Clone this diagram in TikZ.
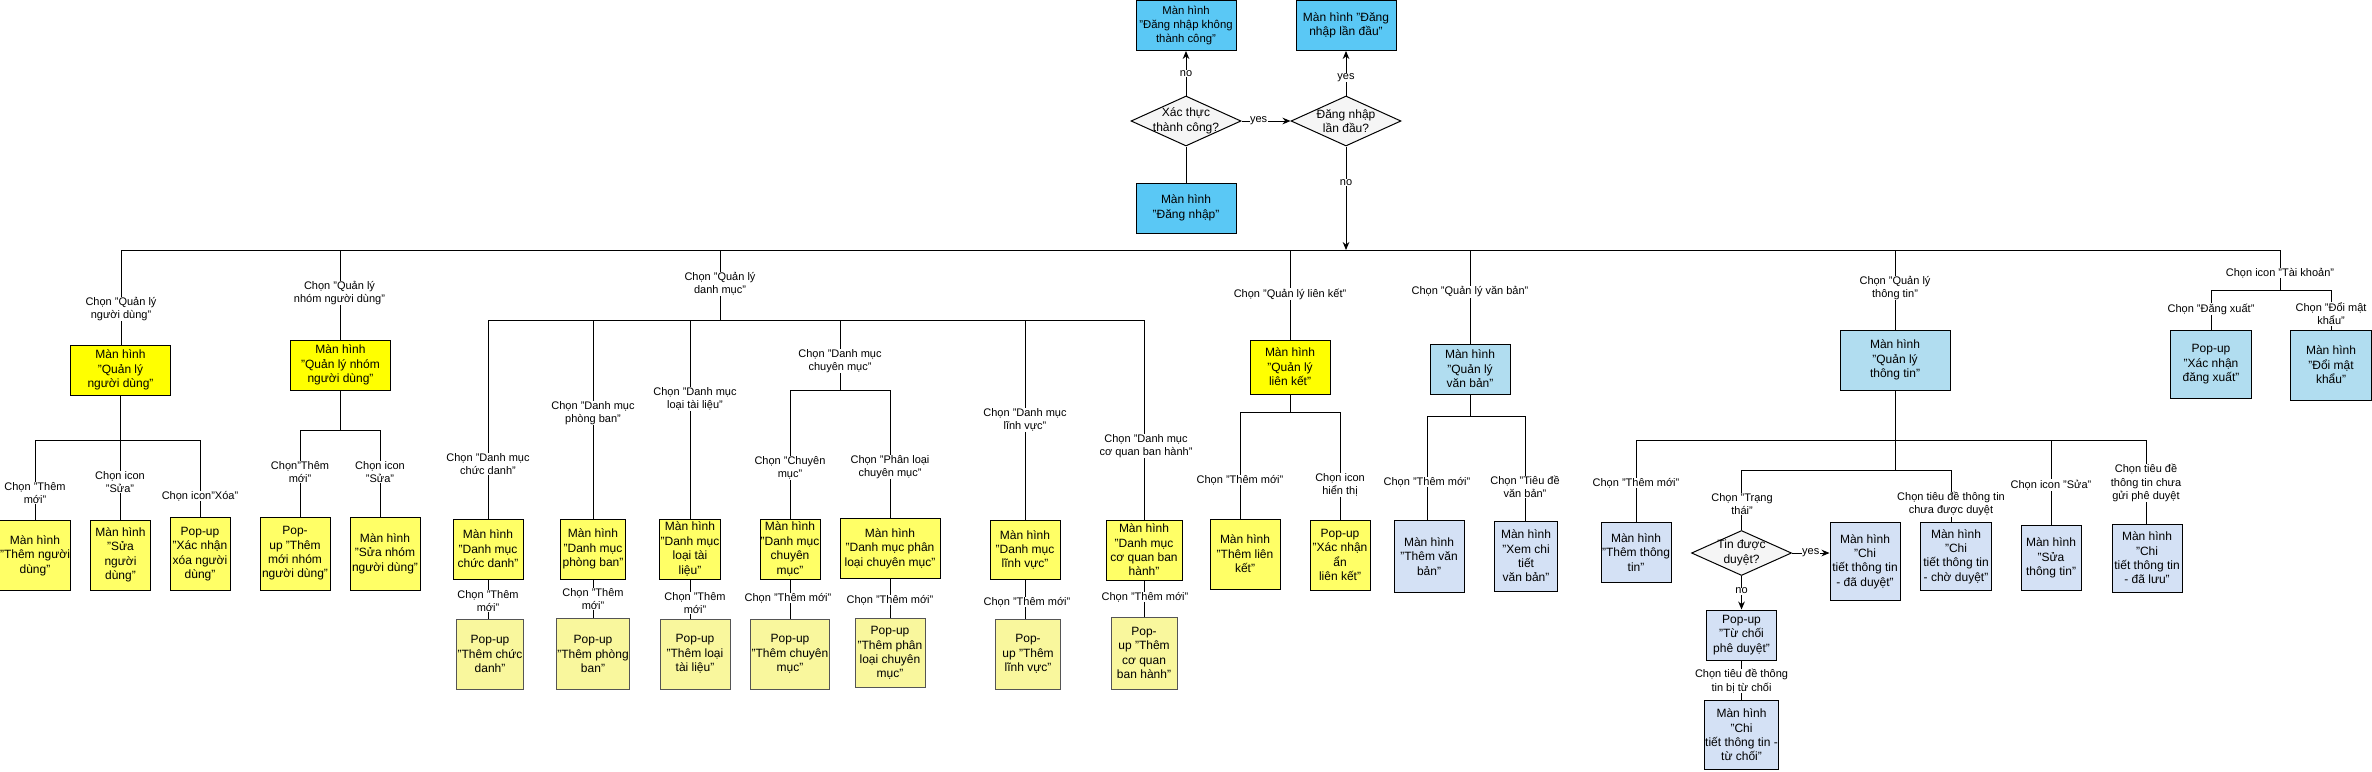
\documentclass[tikz,border=0pt]{standalone}
\usepackage{fontspec}
\setmainfont{Liberation Sans}
\usetikzlibrary{shapes.geometric,arrows.meta}
\definecolor{cTop}{HTML}{5AC8F5}
\definecolor{cDia}{HTML}{F5F5F5}
\definecolor{cY1}{HTML}{FFFF00}
\definecolor{cY2}{HTML}{FFFF66}
\definecolor{cY3}{HTML}{F9F79D}
\definecolor{cB1}{HTML}{B1DDF0}
\definecolor{cB2}{HTML}{D4E1F5}
\definecolor{cGray}{HTML}{555555}
\begin{document}
\begin{tikzpicture}[x=0.75pt,y=-0.75pt,
  sz/.style 2 args={minimum width=#1*0.75pt,minimum height=#2*0.75pt},
  base/.style={draw=black,line width=0.75pt,align=center,inner sep=0.5pt,font=\fontsize{9}{10.8}\selectfont},
  topbox/.style={base,fill=cTop},
  yA/.style={base,fill=cY1},
  yB/.style={base,fill=cY2},
  yC/.style={base,fill=cY3,draw=cGray},
  bA/.style={base,fill=cB1},
  bB/.style={base,fill=cB2},
  dia/.style={diamond,draw=black,fill=cDia,line width=0.75pt,inner sep=0pt},
  diatext/.style={align=center,font=\fontsize{9}{10.8}\selectfont},
  lbl/.style={fill=white,inner sep=0.4pt,align=center,font=\fontsize{8.25}{9.9}\selectfont},
  conn/.style={line width=0.75pt,draw=black},
  arr/.style={conn,-{Stealth[length=6pt,width=5pt]}}]
\useasboundingbox (0,0) rectangle (2372,771);

% ---------- top flow ----------
\node[topbox,sz={100}{50},font=\fontsize{8.5}{10.2}\selectfont] (fail) at (1186,25.5) {Màn hình\\"Đăng nhập không\\thành công"};
\node[topbox,sz={100}{50}] (first) at (1346,25.5) {Màn hình "Đăng\\nhập lần đầu"};
\node[dia,sz={110}{50},label={[diatext]center:{Xác thực\\thành công?}}] (d1) at (1186,121) {};
\node[dia,sz={110}{50},label={[diatext]center:{Đăng nhập\\lần đầu?}}] (d2) at (1346,121) {};
\node[topbox,sz={100}{50}] (login) at (1186,208) {Màn hình\\"Đăng nhập"};

\coordinate (jNo) at (1346,250);
\coordinate (busL) at (121,250);
\coordinate (busR) at (2280,250);
\draw[conn] (busL) -- (busR);
\draw[conn] (login) -- (d1);
\draw[arr] (d1) -- node[lbl]{no} (fail);
\draw[arr] (d1) -- node[lbl,pos=0.35]{yes} (d2);
\draw[arr] (d2) -- node[lbl,pos=0.4]{yes} (first);
\draw[arr] (d2) -- node[lbl,pos=0.35]{no} (jNo);

% ---------- Branch A ----------
\node[yA,sz={100}{50}] (qlnd) at (120.5,370) {Màn hình\\"Quản lý\\người dùng"};
\node[yB,sz={70}{70}] (A1) at (35,555.5) {Màn hình\\"Thêm người\\dùng"};
\node[yB,sz={60}{70}] (A2) at (120.5,555) {Màn hình\\"Sửa\\người\\dùng"};
\node[yB,sz={60}{73}] (A3) at (200,554) {Pop-up\\"Xác nhận\\xóa người\\dùng"};
\coordinate (jA) at (121,250);
\coordinate (jA1) at (35,440);
\coordinate (jA2) at (120.5,440);
\coordinate (jA3) at (200,440);
\draw[conn] (jA) -- (jA |- qlnd.north);
\draw[conn] (qlnd.south) -- (jA2);
\draw[conn] (jA1) -- (jA3);
\draw[conn] (jA1) -- (jA1 |- A1.north);
\draw[conn] (jA2) -- (jA2 |- A2.north);
\draw[conn] (jA3) -- (jA3 |- A3.north);
\node[lbl] (lA) at (121,309) {Chọn "Quản lý\\người dùng"};
\node[lbl] (lA1) at (35,493) {Chọn "Thêm\\mới"};
\node[lbl] (lA2) at (120,482) {Chọn icon\\"Sửa"};
\node[lbl] (lA3) at (200,496) {Chọn icon"Xóa"};

% ---------- Branch B ----------
\node[yA,sz={100}{50}] (qlnn) at (340.5,365) {Màn hình\\"Quản lý nhóm\\người dùng"};
\node[yB,sz={70}{73}] (B1) at (295,553.5) {Pop-\\up "Thêm\\mới nhóm\\người dùng"};
\node[yB,sz={70}{73}] (B2) at (385,553.5) {Màn hình\\"Sửa nhóm\\người dùng"};
\coordinate (jB) at (340,250);
\coordinate (jBm) at (340.5,430);
\coordinate (jB1) at (300,430);
\coordinate (jB2) at (380,430);
\draw[conn] (jB) -- (jB |- qlnn.north);
\draw[conn] (qlnn.south) -- (jBm);
\draw[conn] (jB1) -- (jB2);
\draw[conn] (jB1) -- (jB1 |- B1.north);
\draw[conn] (jB2) -- (jB2 |- B2.north);
\node[lbl] (lB) at (339.5,293) {Chọn "Quản lý\\nhóm người dùng"};
\node[lbl] (lB1) at (300,472) {Chọn"Thêm\\mới"};
\node[lbl] (lB2) at (380,472) {Chọn icon\\"Sửa"};

% ---------- Branch C ----------
\coordinate (jC) at (720,250);
\coordinate (jCm) at (720,320);
\coordinate (jC1) at (488,320);
\coordinate (jC2) at (593,320);
\coordinate (jC3) at (690,320);
\coordinate (jC4) at (840,320);
\coordinate (jC5) at (1025,320);
\coordinate (jC6) at (1144,320);
\coordinate (jC4m) at (840,390);
\coordinate (jC4a) at (790,390);
\coordinate (jC4b) at (890,390);
\draw[conn] (jC) -- (jCm);
\draw[conn] (jC1) -- (jC6);
\draw[conn] (jC4) -- (jC4m);
\draw[conn] (jC4a) -- (jC4b);

\node[yB,sz={70}{60}] (C1) at (488,549) {Màn hình\\"Danh mục\\chức danh"};
\node[yC,sz={66}{70}] (C1p) at (490,654) {Pop-up\\"Thêm chức\\danh"};
\node[yB,sz={65}{60}] (C2) at (593,549) {Màn hình\\"Danh mục\\phòng ban"};
\node[yC,sz={70}{71}] (C2p) at (593,654) {Pop-up\\"Thêm phòng\\ban"};
\node[yB,sz={60}{60}] (C3) at (690,549) {Màn hình\\"Danh mục\\loại tài\\liệu"};
\node[yC,sz={70}{70}] (C3p) at (695,654) {Pop-up\\"Thêm loại\\tài liệu"};
\node[yB,sz={60}{60}] (C4a) at (790,549) {Màn hình\\"Danh mục\\chuyên\\mục"};
\node[yC,sz={76}{70}] (C4ap) at (790,654) {Pop-up\\"Thêm chuyên\\mục"};
\node[yB,sz={100}{60}] (C4b) at (890,548.5) {Màn hình\\"Danh mục phân\\loại chuyên mục"};
\node[yC,sz={70}{69}] (C4bp) at (890,653) {Pop-up\\"Thêm phân\\loại chuyên\\mục"};
\node[yB,sz={70}{59}] (C5) at (1025,550) {Màn hình\\"Danh mục\\lĩnh vực"};
\node[yC,sz={65}{70}] (C5p) at (1028,654) {Pop-\\up "Thêm\\lĩnh vực"};
\node[yB,sz={76}{60}] (C6) at (1144,550) {Màn hình\\"Danh mục\\cơ quan ban\\hành"};
\node[yC,sz={66}{72}] (C6p) at (1144,653) {Pop-\\up "Thêm\\cơ quan\\ban hành"};

\draw[conn] (jC1) -- (jC1 |- C1.north);
\draw[conn] (jC2) -- (jC2 |- C2.north);
\draw[conn] (jC3) -- (jC3 |- C3.north);
\draw[conn] (jC4a) -- (jC4a |- C4a.north);
\draw[conn] (jC4b) -- (jC4b |- C4b.north);
\draw[conn] (jC5) -- (jC5 |- C5.north);
\draw[conn] (jC6) -- (jC6 |- C6.north);
\draw[conn] (C1.south) -- (C1.south |- C1p.north);
\draw[conn] (C2.south) -- (C2.south |- C2p.north);
\draw[conn] (C3.south) -- (C3.south |- C3p.north);
\draw[conn] (C4a.south) -- (C4a.south |- C4ap.north);
\draw[conn] (C4b.south) -- (C4b.south |- C4bp.north);
\draw[conn] (C5.south) -- (C5.south |- C5p.north);
\draw[conn] (C6.south) -- (C6.south |- C6p.north);

\node[lbl] (lC) at (720,284) {Chọn "Quản lý\\danh mục"};
\node[lbl] (lC1) at (488,464) {Chọn "Danh mục\\chức danh"};
\node[lbl] (lC1p) at (488,601) {Chọn "Thêm\\mới"};
\node[lbl] (lC2) at (593,413) {Chọn "Danh mục\\phòng ban"};
\node[lbl] (lC2p) at (593,599) {Chọn "Thêm\\mới"};
\node[lbl] (lC3) at (695,399) {Chọn "Danh mục\\loại tài liệu"};
\node[lbl] (lC3p) at (695,603) {Chọn "Thêm\\mới"};
\node[lbl] (lC4) at (840,361) {Chọn "Danh mục\\chuyên mục"};
\node[lbl] (lC4a) at (790,468) {Chọn "Chuyên\\mục"};
\node[lbl] (lC4ap) at (788,598) {Chọn "Thêm mới"};
\node[lbl] (lC4b) at (890,467) {Chọn "Phân loại\\chuyên mục"};
\node[lbl] (lC4bp) at (890,600) {Chọn "Thêm mới"};
\node[lbl] (lC5) at (1025,420) {Chọn "Danh mục\\lĩnh vực"};
\node[lbl] (lC5p) at (1027,602) {Chọn "Thêm mới"};
\node[lbl] (lC6) at (1146,446) {Chọn "Danh mục\\cơ quan ban hành"};
\node[lbl] (lC6p) at (1145,597) {Chọn "Thêm mới"};

% ---------- Branch D ----------
\node[yA,sz={80}{54}] (qllk) at (1290,367) {Màn hình\\"Quản lý\\liên kết"};
\node[yB,sz={70}{70}] (D1) at (1245,554) {Màn hình\\"Thêm liên\\kết"};
\node[yB,sz={60}{70}] (D2) at (1340,555) {Pop-up\\"Xác nhận\\ẩn\\liên kết"};
\coordinate (jD) at (1290,250);
\coordinate (jDm) at (1290,412);
\coordinate (jD1) at (1240,412);
\coordinate (jD2) at (1340,412);
\draw[conn] (jD) -- (jD |- qllk.north);
\draw[conn] (qllk.south) -- (jDm);
\draw[conn] (jD1) -- (jD2);
\draw[conn] (jD1) -- (jD1 |- D1.north);
\draw[conn] (jD2) -- (jD2 |- D2.north);
\node[lbl] (lD) at (1290,294) {Chọn "Quản lý liên kết"};
\node[lbl] (lD1) at (1240,480) {Chọn "Thêm mới"};
\node[lbl] (lD2) at (1340,485) {Chọn icon\\hiển thị};

% ---------- Branch E ----------
\node[bA,sz={80}{50}] (qlvb) at (1470,369) {Màn hình\\"Quản lý\\văn bản"};
\node[bB,sz={70}{72}] (E1) at (1429,556.5) {Màn hình\\"Thêm văn\\bản"};
\node[bB,sz={63}{70}] (E2) at (1526,556) {Màn hình\\"Xem chi\\tiết\\văn bản"};
\coordinate (jE) at (1470,250);
\coordinate (jEm) at (1470,416);
\coordinate (jE1) at (1427,416);
\coordinate (jE2) at (1525,416);
\draw[conn] (jE) -- (jE |- qlvb.north);
\draw[conn] (qlvb.south) -- (jEm);
\draw[conn] (jE1) -- (jE2);
\draw[conn] (jE1) -- (jE1 |- E1.north);
\draw[conn] (jE2) -- (jE2 |- E2.north);
\node[lbl] (lE) at (1470,292) {Chọn "Quản lý văn bản"};
\node[lbl] (lE1) at (1427,482) {Chọn "Thêm mới"};
\node[lbl] (lE2) at (1525,487) {Chọn "Tiêu đề\\văn bản"};

% ---------- Branch F ----------
\node[bA,sz={110}{60}] (qltt) at (1895,360) {Màn hình\\"Quản lý\\thông tin"};
\node[bB,sz={70}{60}] (F1) at (1636,552.5) {Màn hình\\"Thêm thông\\tin"};
\node[dia,sz={100}{45},label={[diatext]center:{Tin được\\duyệt?}}] (F2) at (1741.5,553) {};
\node[bB,sz={70}{78}] (ok) at (1865,561.5) {Màn hình\\"Chi\\tiết thông tin\\- đã duyệt"};
\node[bB,sz={70}{50}] (rej) at (1741.5,635) {Pop-up\\"Từ chối\\phê duyệt"};
\node[bB,sz={70}{69}] (rejd) at (1741.5,735) {Màn hình\\"Chi\\tiết thông tin -\\từ chối"};
\node[bB,sz={71}{68}] (F3) at (1956,556.5) {Màn hình\\"Chi\\tiết thông tin\\- chờ duyệt"};
\node[bB,sz={60}{65}] (F4) at (2051,558) {Màn hình\\"Sửa\\thông tin"};
\node[bB,sz={70}{68}] (F5) at (2147,558) {Màn hình\\"Chi\\tiết thông tin\\- đã lưu"};
\coordinate (jF) at (1895,250);
\coordinate (jFm) at (1895,440);
\coordinate (jF1) at (1636,440);
\coordinate (jF4) at (2051,440);
\coordinate (jF5) at (2146,440);
\coordinate (jFs) at (1895,470);
\coordinate (jF2) at (1741.5,470);
\coordinate (jF3) at (1951,470);
\draw[conn] (jF) -- (jF |- qltt.north);
\draw[conn] (qltt.south) -- (jFm);
\draw[conn] (jF1) -- (jF5);
\draw[conn] (jFm) -- (jFs);
\draw[conn] (jF2) -- (jF3);
\draw[conn] (jF1) -- (jF1 |- F1.north);
\draw[conn] (jF2) -- (F2.north);
\draw[conn] (jF3) -- (jF3 |- F3.north);
\draw[conn] (jF4) -- (jF4 |- F4.north);
\draw[conn] (jF5) -- (jF5 |- F5.north);
\draw[arr] (F2.east) -- node[lbl]{yes} (F2.east -| ok.west);
\draw[arr] (F2.south) -- node[lbl,pos=0.45]{no} (rej.north);
\draw[conn] (rej.south) -- (rejd.north);
\node[lbl] (lF) at (1895,288) {Chọn "Quản lý\\thông tin"};
\node[lbl] (lF1) at (1636,483) {Chọn "Thêm mới"};
\node[lbl] (lF2) at (1742,504) {Chọn "Trạng\\thái"};
\node[lbl] (lF3) at (1951,504) {Chọn tiêu đề thông tin\\chưa được duyệt};
\node[lbl] (lF4) at (2051,485) {Chọn icon "Sửa"};
\node[lbl] (lF5) at (2146,483) {Chọn tiêu đề\\thông tin chưa\\gửi phê duyệt};
\node[lbl] (lrej) at (1741.5,681) {Chọn tiêu đề thông\\tin bị từ chối};

% ---------- Branch G ----------
\node[bA,sz={81}{68}] (G1) at (2211,364.5) {Pop-up\\"Xác nhận\\đăng xuất"};
\node[bA,sz={81}{70}] (G2) at (2331,365) {Màn hình\\"Đổi mật\\khẩu"};
\coordinate (jG) at (2280,250);
\coordinate (jGm) at (2280,290);
\coordinate (jG1) at (2211,290);
\coordinate (jG2) at (2331,290);
\draw[conn] (jG) -- (jGm);
\draw[conn] (jG1) -- (jG2);
\draw[conn] (jG1) -- (jG1 |- G1.north);
\draw[conn] (jG2) -- (jG2 |- G2.north);
\node[lbl] (lG) at (2280,273) {Chọn icon "Tài khoản"};
\node[lbl] (lG1) at (2211,309) {Chọn "Đăng xuất"};
\node[lbl] (lG2) at (2331,314) {Chọn "Đổi mật\\khẩu"};
\end{tikzpicture}
\end{document}
